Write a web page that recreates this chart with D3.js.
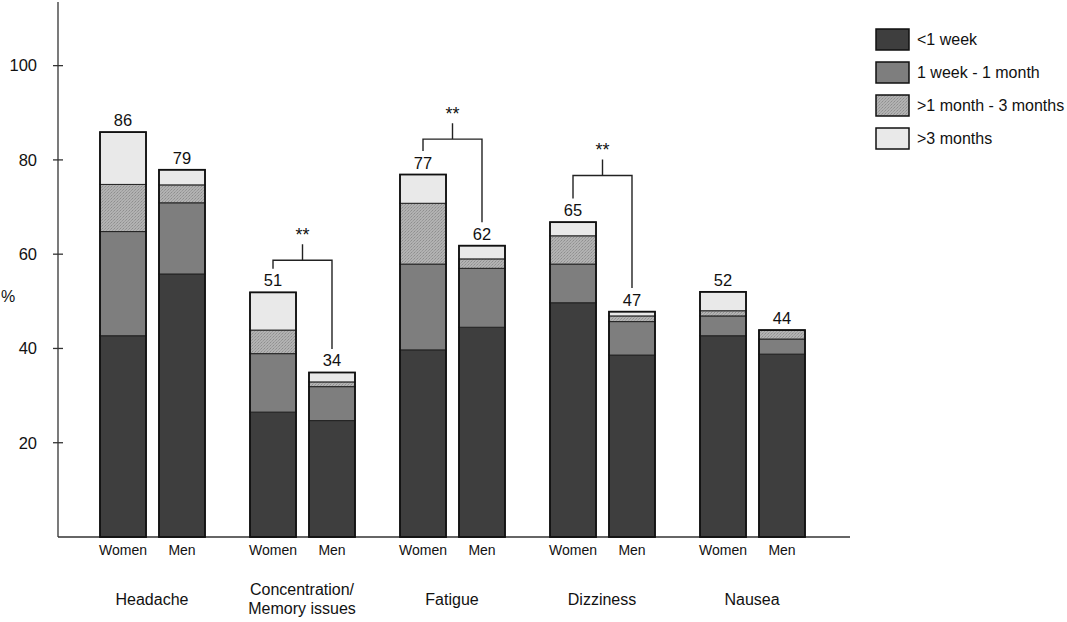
<!DOCTYPE html>
<html>
<head>
<meta charset="utf-8">
<script src="https://cdn.jsdelivr.net/npm/d3@7"></script>
<style>
  body { margin: 0; background: #fff; }
  text { font-family: "Liberation Sans", Arial, sans-serif; fill: #111; }
</style>
</head>
<body>
<div id="chart"></div>
<script>
// Data
var categories = ["Headache", "Concentration/\nMemory issues", "Fatigue", "Dizziness", "Nausea"];
var sexes = ["Women", "Men"];
var durations = ["<1 week", "1 week - 1 month", ">1 month - 3 months", ">3 months"];

// one array per duration, order: Headache W, Headache M, Conc W, Conc M, ...
var lessWeek   = [42.7, 55.8, 26.5, 24.7, 39.7, 44.5, 49.7, 38.6, 42.7, 38.8];
var weekMonth  = [22.1, 15.1, 12.4,  7.2, 18.2, 12.5,  8.2,  7.1,  4.2,  3.2];
var month3     = [10.0,  3.8,  5.0,  1.0, 12.9,  2.0,  6.0,  1.2,  1.1,  1.9];
var over3      = [11.1,  3.2,  8.0,  2.0,  6.1,  2.8,  2.9,  0.9,  4.0,  0.0];
var totalLabels = ["86", "79", "51", "34", "77", "62", "65", "47", "52", "44"];

// significance brackets (group index, height of bracket in %)
var sigGroups = [1, 2, 3];
var sigHeight = [58.7, 84.4, 76.7];

var yTicks = [20, 40, 60, 80, 100];

//SVG size
var svgWidth = 1067;
var svgHeight = 622;

var svg = d3.select("#chart")
  .append("svg")
  .attr("width", svgWidth)
  .attr("height", svgHeight);

// stippled fill for the ">1 month - 3 months" segments
var defs = svg.append("defs");
var pat = defs.append("pattern")
  .attr("id", "stipple")
  .attr("width", 3)
  .attr("height", 3)
  .attr("patternUnits", "userSpaceOnUse");
pat.append("rect").attr("width", 3).attr("height", 3).attr("fill", "#b2b2b2");
pat.append("rect").attr("width", 1).attr("height", 1).attr("fill", "#8e8e8e");
pat.append("rect").attr("x", 2).attr("y", 1).attr("width", 1).attr("height", 1).attr("fill", "#999");
pat.append("rect").attr("x", 1).attr("y", 2).attr("width", 1).attr("height", 1).attr("fill", "#a0a0a0");

var colors = ["#3e3e3e", "#7e7e7e", "url(#stipple)", "#e9e9e9"];

// scales
var yScale = d3.scaleLinear()
  .domain([0, 113.5])
  .range([537, 2]);

var xScale = d3.scaleBand()
  .domain(categories)
  .range([77, 827]);

var xSub = d3.scaleBand()
  .domain(sexes)
  .range([23, 128])
  .paddingInner(0.22);

// build stacked rows
var rows = [];
categories.forEach(function(c, i) {
  sexes.forEach(function(s, j) {
    var k = i * 2 + j;
    rows.push({
      cat: c, sex: s, idx: k,
      "<1 week": lessWeek[k],
      "1 week - 1 month": weekMonth[k],
      ">1 month - 3 months": month3[k],
      ">3 months": over3[k]
    });
  });
});

var stack = d3.stack().keys(durations);
var series = stack(rows);

function barX(d) {
  return xScale(d.cat) + xSub(d.sex);
}

// axes
var yAxis = svg.append("g")
  .attr("transform", "translate(58,0)");

yAxis.append("line")
  .attr("x1", 0).attr("x2", 0)
  .attr("y1", yScale.range()[1]).attr("y2", yScale(0))
  .attr("stroke", "#333").attr("stroke-width", 1.3);

yAxis.selectAll(".tick")
  .data(yTicks)
  .enter()
  .append("line")
  .attr("x1", -5).attr("x2", 5)
  .attr("y1", d => yScale(d)).attr("y2", d => yScale(d))
  .attr("stroke", "#333").attr("stroke-width", 1.3);

yAxis.selectAll(".ylab")
  .data(yTicks)
  .enter()
  .append("text")
  .attr("x", -21)
  .attr("y", d => yScale(d))
  .attr("dy", "0.35em")
  .attr("text-anchor", "end")
  .attr("font-size", "16.5px")
  .text(d => d);

svg.append("line")
  .attr("x1", 58).attr("x2", 850)
  .attr("y1", yScale(0)).attr("y2", yScale(0))
  .attr("stroke", "#333").attr("stroke-width", 1.3);

svg.append("text")
  .attr("x", 1)
  .attr("y", 296)
  .attr("dy", "0.35em")
  .attr("font-size", "16px")
  .text("%");

// bars
var layers = svg.append("g").selectAll("g")
  .data(series)
  .enter()
  .append("g")
  .attr("fill", (d, i) => colors[i]);

layers.selectAll("rect")
  .data(d => d)
  .enter()
  .append("rect")
  .attr("x", d => barX(d.data))
  .attr("width", xSub.bandwidth())
  .attr("y", d => yScale(d[1]))
  .attr("height", d => yScale(d[0]) - yScale(d[1]))
  .attr("stroke", "#222")
  .attr("stroke-width", 1);

// bar outlines
var tops = series[series.length - 1];
svg.append("g").selectAll("rect")
  .data(tops)
  .enter()
  .append("rect")
  .attr("x", d => barX(d.data))
  .attr("width", xSub.bandwidth())
  .attr("y", d => yScale(d[1]))
  .attr("height", d => yScale(0) - yScale(d[1]))
  .attr("fill", "none")
  .attr("stroke", "#111")
  .attr("stroke-width", 1.8);

// total labels
svg.append("g").selectAll("text")
  .data(tops)
  .enter()
  .append("text")
  .attr("x", d => barX(d.data) + xSub.bandwidth() / 2)
  .attr("y", d => yScale(d[1]) - 6)
  .attr("text-anchor", "middle")
  .attr("font-size", "16.5px")
  .text(d => totalLabels[d.data.idx]);

// sex labels
svg.append("g").selectAll("text")
  .data(rows)
  .enter()
  .append("text")
  .attr("x", d => barX(d) + xSub.bandwidth() / 2)
  .attr("y", 555)
  .attr("text-anchor", "middle")
  .attr("font-size", "14px")
  .text(d => d.sex);

// category labels
var catLabels = svg.append("g").selectAll("text")
  .data(categories)
  .enter()
  .append("text")
  .attr("x", d => xScale(d) + xScale.bandwidth() / 2)
  .attr("y", d => d.indexOf("\n") >= 0 ? 595 : 605)
  .attr("text-anchor", "middle")
  .attr("font-size", "16px");

catLabels.each(function(d) {
  var parts = d.split("\n");
  var t = d3.select(this);
  parts.forEach(function(p, i) {
    t.append("tspan")
      .attr("x", xScale(d) + xScale.bandwidth() / 2)
      .attr("dy", i === 0 ? 0 : 19)
      .text(p);
  });
});

// significance brackets
sigGroups.forEach(function(g, i) {
  var w = tops[g * 2];
  var m = tops[g * 2 + 1];
  var xw = barX(w.data) + xSub.bandwidth() / 2;
  var xm = barX(m.data) + xSub.bandwidth() / 2;
  var yb = yScale(sigHeight[i]);
  var xc = (xw + xm) / 2;
  var path = d3.path();
  path.moveTo(xw, yScale(w[1] + 5));
  path.lineTo(xw, yb);
  path.lineTo(xm, yb);
  path.lineTo(xm, yScale(m[1] + 5));
  path.moveTo(xc, yb);
  path.lineTo(xc, yb - 16);
  svg.append("path")
    .attr("d", path.toString())
    .attr("fill", "none")
    .attr("stroke", "#222")
    .attr("stroke-width", 1.4);
  svg.append("text")
    .attr("x", xc)
    .attr("y", yb - 19)
    .attr("text-anchor", "middle")
    .attr("font-size", "18px")
    .text("**");
});

// legend
var legend = svg.append("g")
  .attr("transform", "translate(876,29)");

var items = legend.selectAll("g")
  .data(durations)
  .enter()
  .append("g")
  .attr("transform", (d, i) => `translate(0, ${i * 33})`);

items.append("rect")
  .attr("width", 33)
  .attr("height", 21)
  .attr("fill", (d, i) => colors[i])
  .attr("stroke", "#111")
  .attr("stroke-width", 1.5);

items.append("text")
  .attr("x", 41)
  .attr("y", 10.5)
  .attr("dy", "0.35em")
  .attr("font-size", "16px")
  .text(d => d);
</script>
</body>
</html>
